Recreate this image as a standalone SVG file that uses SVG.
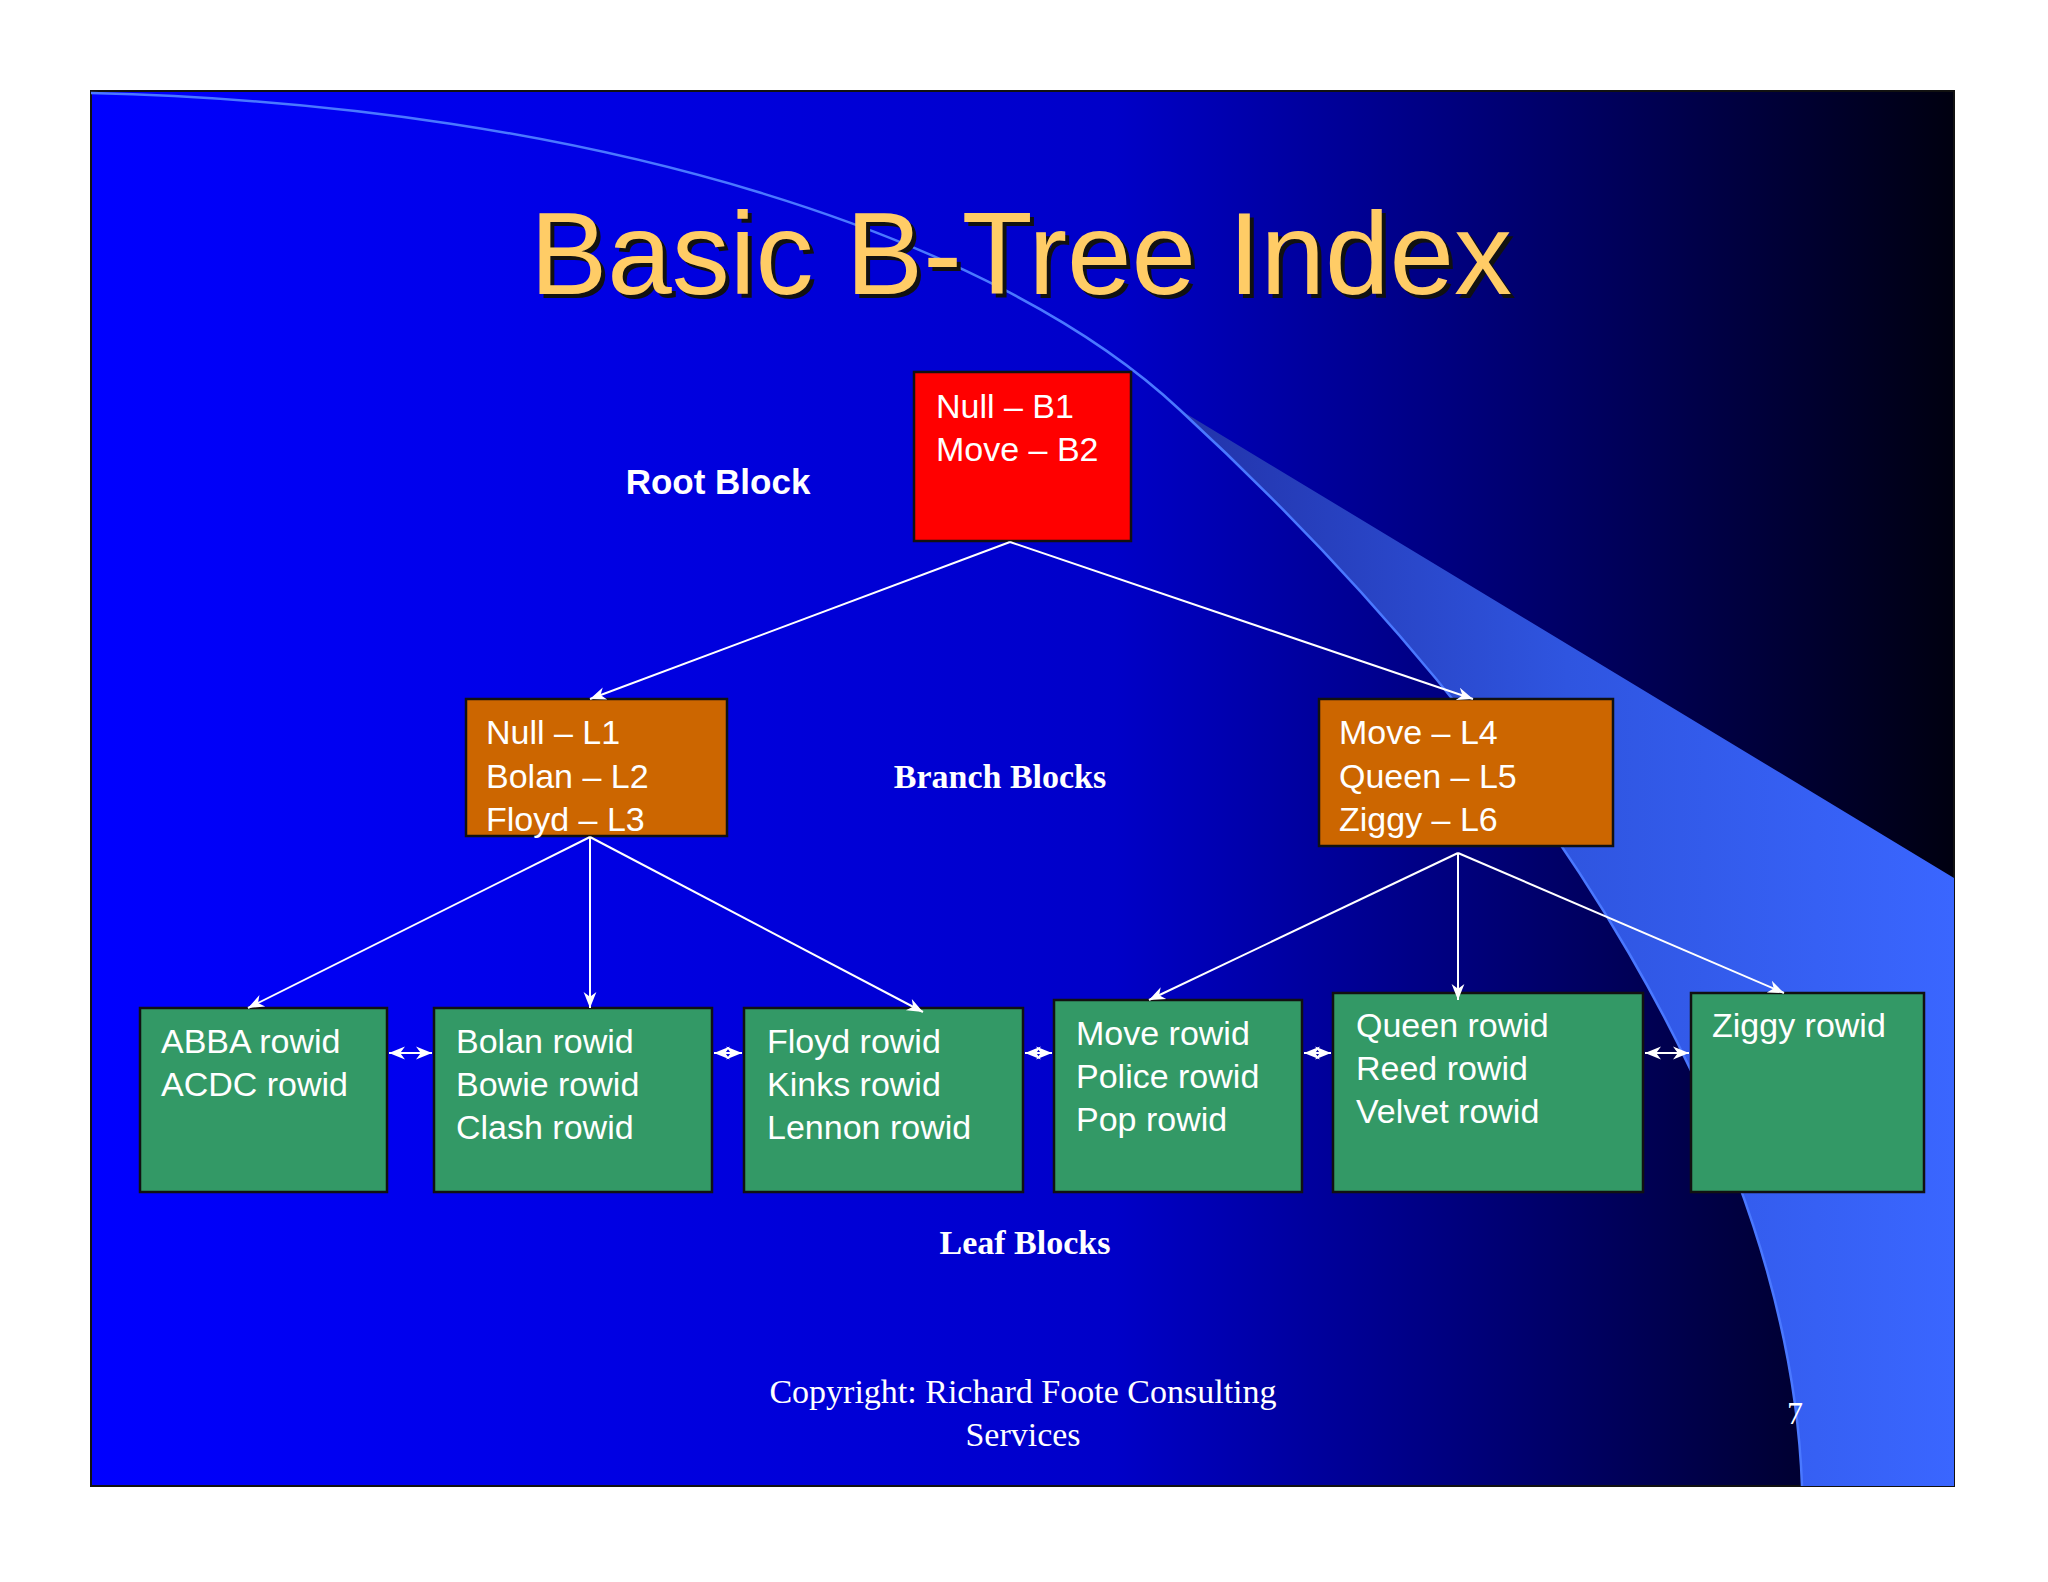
<svg xmlns="http://www.w3.org/2000/svg" width="2048" height="1582" viewBox="0 0 2048 1582">
<defs>
<linearGradient id="bg" x1="0" y1="0" x2="1" y2="0"><stop offset="0" stop-color="#0000ff"/><stop offset="0.55" stop-color="#0000c8"/><stop offset="1" stop-color="#000010"/></linearGradient>
<linearGradient id="sw" x1="0" y1="0" x2="1" y2="0"><stop offset="0" stop-color="#2233aa"/><stop offset="0.5" stop-color="#2f55e0"/><stop offset="1" stop-color="#3a66ff"/></linearGradient>
<marker id="ah" viewBox="0 0 10 10" refX="10" refY="5" markerWidth="8" markerHeight="8" orient="auto-start-reverse"><path d="M0,1 L10,5 L0,9 L3,5 Z" fill="#fff"/></marker>
<style>
.t{font-family:"Liberation Sans",Arial,sans-serif;font-size:34px;fill:#fff}
.lb{font-family:"Liberation Serif","Times New Roman",serif;font-weight:bold;font-size:34px;fill:#fff;text-anchor:middle}
.c{stroke:#fff;stroke-width:2;fill:none;marker-end:url(#ah)}
.d{stroke:#fff;stroke-width:2;fill:none;marker-end:url(#ah);marker-start:url(#ah)}
.leaf{fill:#339966;stroke:#111;stroke-width:2.5}
</style>
</defs>
<rect width="2048" height="1582" fill="#fff"/>
<rect x="91" y="91" width="1863" height="1395" fill="url(#bg)" stroke="#111" stroke-width="2"/>
<path d="M1180,410 L1954,878 L1954,1486 L1802,1486 C1790,1150 1560,760 1180,410 Z" fill="url(#sw)"/>
<path d="M91,93 C600,105 1000,240 1180,410 C1560,760 1790,1150 1802,1486" fill="none" stroke="#4a78ff" stroke-width="2.5"/>
<text x="1025" y="298" text-anchor="middle" font-family="Liberation Sans,Arial,sans-serif" font-size="116" fill="#111">Basic B-Tree Index</text>
<text x="1021" y="294" text-anchor="middle" font-family="Liberation Sans,Arial,sans-serif" font-size="116" fill="#ffcc66">Basic B-Tree Index</text>
<text x="718" y="494" text-anchor="middle" font-family="Liberation Sans,Arial,sans-serif" font-weight="bold" font-size="35" fill="#fff">Root Block</text>
<text class="lb" x="1000" y="788">Branch Blocks</text>
<text class="lb" x="1025" y="1254">Leaf Blocks</text>
<text x="1023" y="1403" text-anchor="middle" font-family="Liberation Serif,serif" font-size="34" fill="#fff">Copyright: Richard Foote Consulting</text>
<text x="1023" y="1446" text-anchor="middle" font-family="Liberation Serif,serif" font-size="34" fill="#fff">Services</text>
<text x="1787" y="1424" font-family="Liberation Serif,serif" font-size="32" fill="#fff">7</text>
<g id="root"><rect x="914" y="372" width="217" height="169" fill="#ff0000" stroke="#111" stroke-width="2.5"/><text class="t" x="936" y="418">Null – B1</text><text class="t" x="936" y="461">Move – B2</text></g>
<g id="branch1"><rect x="466" y="699" width="261" height="137" fill="#cc6600" stroke="#111" stroke-width="2.5"/><text class="t" x="486" y="744">Null – L1</text><text class="t" x="486" y="788">Bolan – L2</text><text class="t" x="486" y="831">Floyd – L3</text></g>
<g id="branch2"><rect x="1319" y="699" width="294" height="147" fill="#cc6600" stroke="#111" stroke-width="2.5"/><text class="t" x="1339" y="744">Move – L4</text><text class="t" x="1339" y="788">Queen – L5</text><text class="t" x="1339" y="831">Ziggy – L6</text></g>
<g id="leaf1"><rect class="leaf" x="140" y="1008" width="247" height="184"/><text class="t" x="161" y="1053">ABBA rowid</text><text class="t" x="161" y="1096">ACDC rowid</text></g>
<g id="leaf2"><rect class="leaf" x="434" y="1008" width="278" height="184"/><text class="t" x="456" y="1053">Bolan rowid</text><text class="t" x="456" y="1096">Bowie rowid</text><text class="t" x="456" y="1139">Clash rowid</text></g>
<g id="leaf3"><rect class="leaf" x="744" y="1008" width="279" height="184"/><text class="t" x="767" y="1053">Floyd rowid</text><text class="t" x="767" y="1096">Kinks rowid</text><text class="t" x="767" y="1139">Lennon rowid</text></g>
<g id="leaf4"><rect class="leaf" x="1054" y="1000" width="248" height="192"/><text class="t" x="1076" y="1045">Move rowid</text><text class="t" x="1076" y="1088">Police rowid</text><text class="t" x="1076" y="1131">Pop rowid</text></g>
<g id="leaf5"><rect class="leaf" x="1333" y="993" width="310" height="199"/><text class="t" x="1356" y="1037">Queen rowid</text><text class="t" x="1356" y="1080">Reed rowid</text><text class="t" x="1356" y="1123">Velvet rowid</text></g>
<g id="leaf6"><rect class="leaf" x="1691" y="993" width="233" height="199"/><text class="t" x="1712" y="1037">Ziggy rowid</text></g>
<g id="connectors">
<line class="c" x1="1010" y1="542" x2="590" y2="699"/>
<line class="c" x1="1010" y1="542" x2="1473" y2="699"/>
<line class="c" x1="590" y1="837" x2="248" y2="1008"/>
<line class="c" x1="590" y1="837" x2="590" y2="1008"/>
<line class="c" x1="590" y1="837" x2="923" y2="1012"/>
<line class="c" x1="1458" y1="853" x2="1149" y2="1000"/>
<line class="c" x1="1458" y1="853" x2="1458" y2="1000"/>
<line class="c" x1="1458" y1="853" x2="1784" y2="993"/>
<line class="d" x1="389" y1="1053" x2="432" y2="1053"/>
<line class="d" x1="714" y1="1053" x2="742" y2="1053"/>
<line class="d" x1="1025" y1="1053" x2="1052" y2="1053"/>
<line class="d" x1="1304" y1="1053" x2="1331" y2="1053"/>
<line class="d" x1="1645" y1="1053" x2="1689" y2="1053"/>
</g>
</svg>
